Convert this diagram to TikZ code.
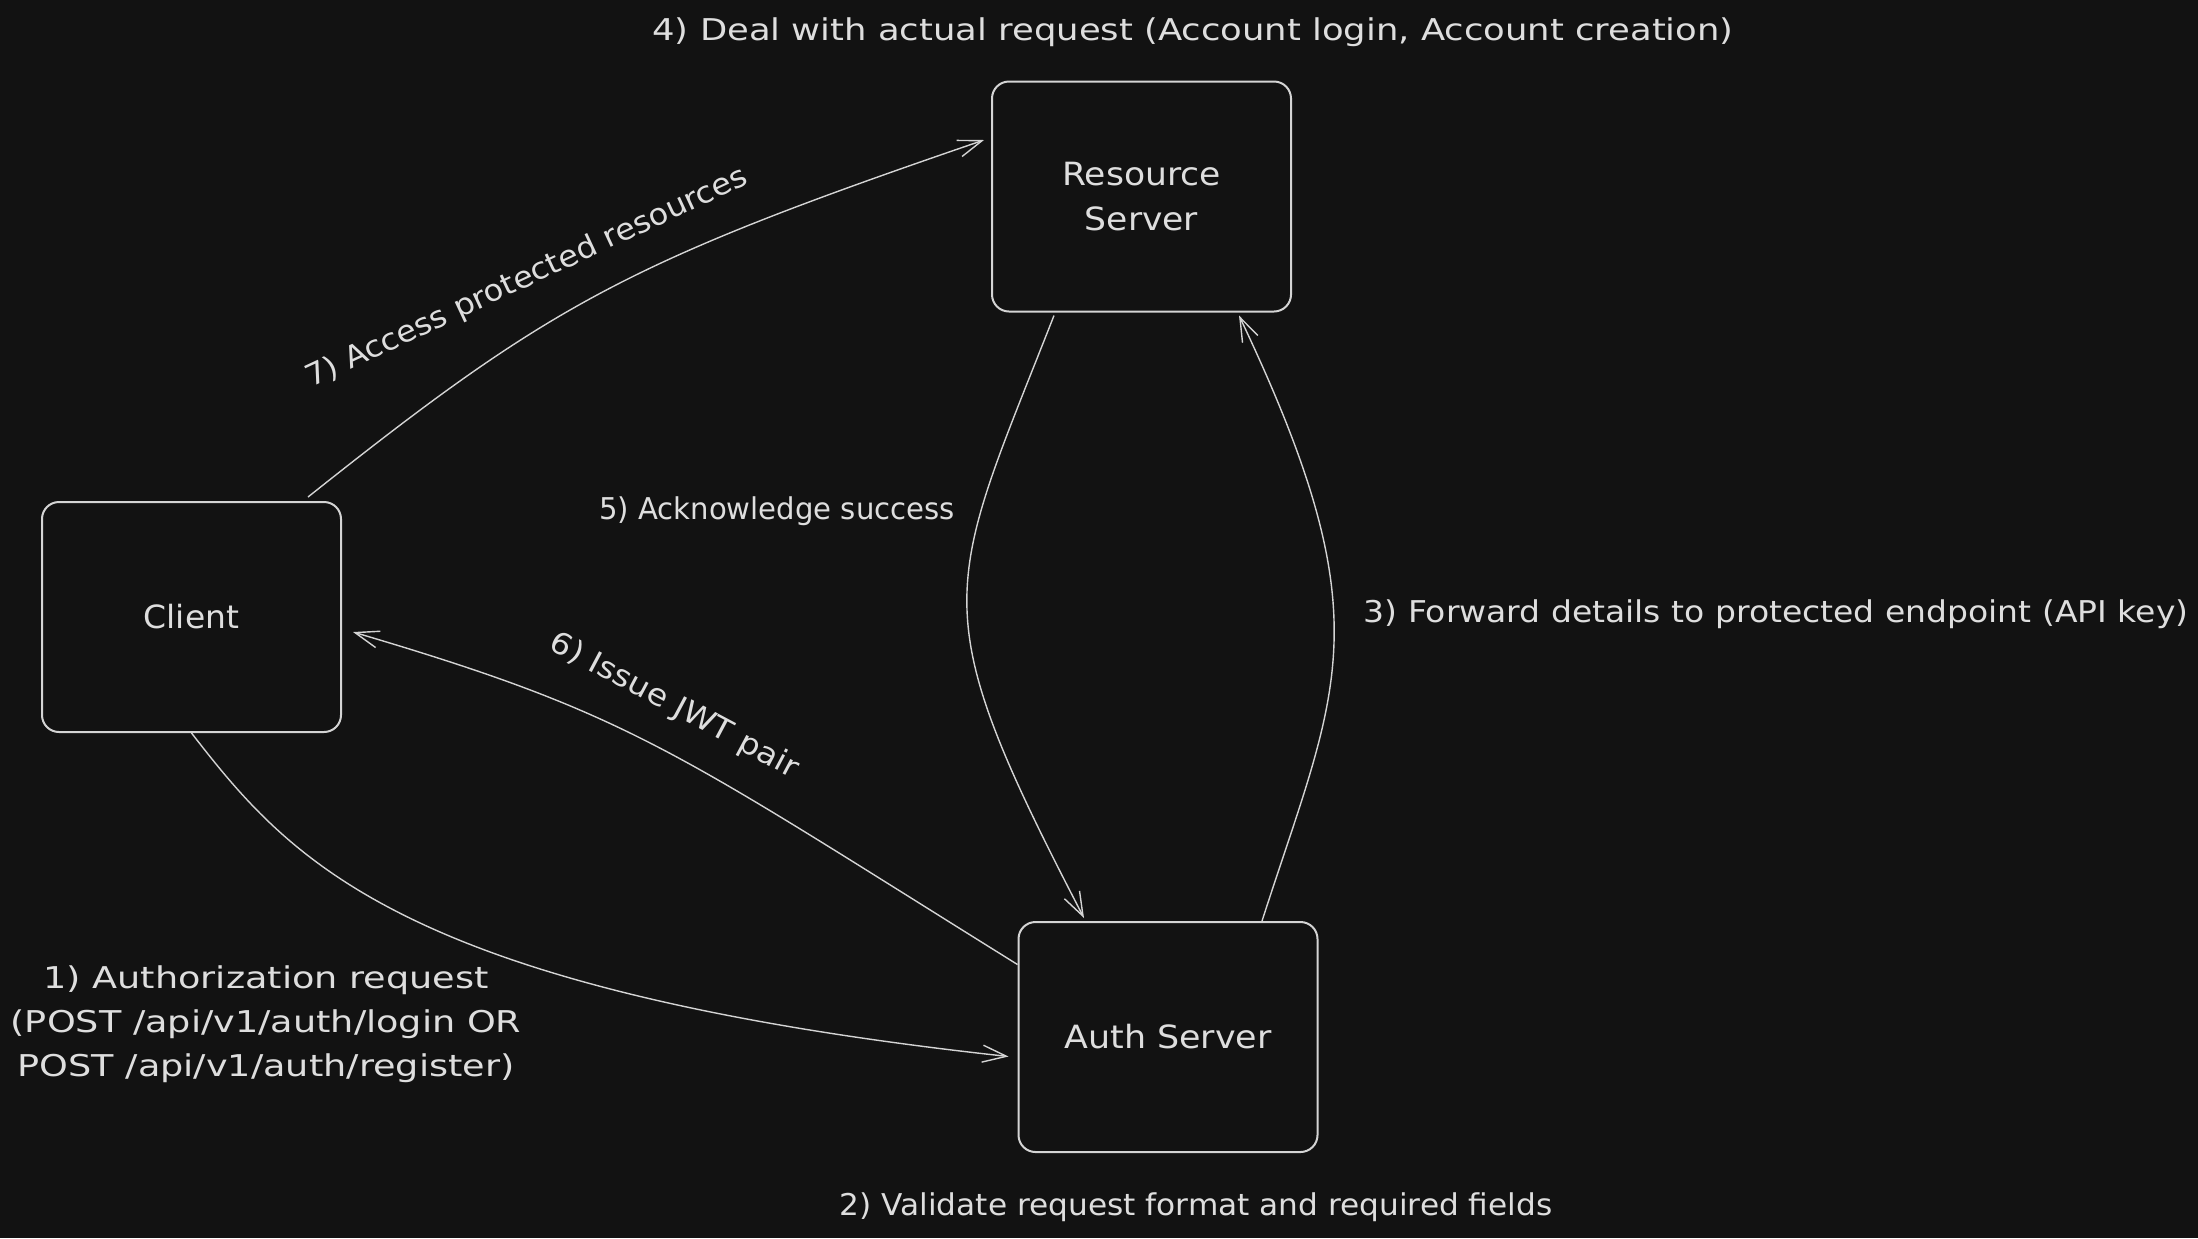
\documentclass[tikz,border=0pt]{standalone}
\usepackage{fontspec}
\setmainfont{DejaVu Sans}
\usetikzlibrary{arrows.meta,calc}
\definecolor{bg}{HTML}{121212}
\definecolor{ink}{HTML}{D4D4D4}
\definecolor{txt}{HTML}{DEDEDE}
\begin{document}
\begin{tikzpicture}[x=0.5pt,y=-0.5pt,
  box/.style={draw=ink, line width=1pt, rounded corners=8.5pt, minimum width=149.5pt,
    minimum height=115pt, inner sep=0pt},
  boxtext/.style={text=txt, font=\fontsize{16}{22.5}\selectfont, align=center, inner sep=0pt},
  lbl/.style={text=txt, font=\fontsize{15}{22}\selectfont, align=center, inner sep=0pt},
  conn/.style={draw=ink, line width=0.7pt, -{Straight Barb[length=12pt,width=8.5pt]}}]
\fill[bg] (0,0) rectangle (2198,1238);
\useasboundingbox (0,0) rectangle (2198,1238);

\node[box] (client) at (191.5,617) {};
\node[box] (res) at (1141.5,196.5) {};
\node[box] (auth) at (1168,1037) {};
\node[boxtext, xscale=1.03] (clientT) at (client.center) {Client};
\node[boxtext, xscale=1.08] (resT) at (res.center) {Resource\\Server};
\node[boxtext, xscale=1.09] (authT) at (auth.center) {Auth Server};

\node[lbl, xscale=1.22] (l1) at (266,1024) {1) Authorization request\\(POST /api/v1/auth/login OR\\POST /api/v1/auth/register)};
\node[lbl, xscale=1.04] (l2) at (1196,1207) {2) Validate request format and required fields};
\node[lbl, xscale=1.10] (l3) at (1776,614) {3) Forward details to protected endpoint (API key)};
\node[lbl, xscale=1.18] (l4) at (1193,32) {4) Deal with actual request (Account login, Account creation)};
\node[lbl, xscale=0.97] (l5) at (777,511) {5) Acknowledge success};
\node[lbl, rotate=-28, xscale=1.1] (l6) at (674,706) {6) Issue JWT pair};
\node[lbl, rotate=25, xscale=1.07] (l7) at (527,278) {7) Access protected resources};

% 1) client -> auth
\draw[conn] (client.south) .. controls (290,860) and (400,990) .. ($(auth.west)+(-9,19.5)$);
% 3) auth -> resource
\draw[conn] ($(auth.north)+(94,0)$) .. controls (1338,685) and (1385,623) .. ($(res.south)+(97.5,3)$);
% 5) resource -> auth
\draw[conn] ($(res.south)+(-87.5,3)$) .. controls (945,593) and (921,604) .. ($(auth.north)+(-84,-3)$);
% 6) auth -> client
\draw[conn] ($(auth.west)+(0,-72.5)$) .. controls (673,750) and (634,715) .. ($(client.east)+(11,15)$);
% 7) client -> resource
\draw[conn] ($(client.north)+(116.5,-4)$) .. controls (553,302) and (628,262) .. ($(res.west)+(-7,-56.5)$);
\end{tikzpicture}
\end{document}
